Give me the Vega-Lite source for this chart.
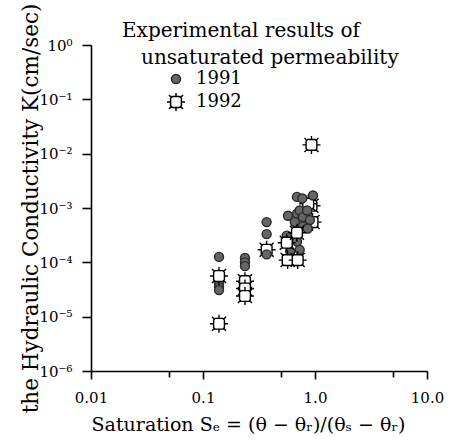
{
  "$schema": "https://vega.github.io/schema/vega-lite/v6.json",
  "width": 336,
  "height": 326,
  "autosize": {"type": "none"},
  "padding": {"left": 91, "top": 45, "right": 29, "bottom": 74},
  "background": "white",
  "config": {
    "view": {"stroke": null},
    "font": "DejaVu Serif",
    "axis": {"grid": false, "domainColor": "black", "labelColor": "black", "titleColor": "black", "labelFont": "DejaVu Serif", "titleFont": "DejaVu Serif", "titleFontWeight": "normal", "domainWidth": 1.6},
    "legend": {"titleFont": "DejaVu Serif", "labelFont": "DejaVu Serif", "titleFontWeight": "normal", "titleColor": "black", "labelColor": "black", "titleLimit": 500}
  },
  "data": {
    "values": [
      {"s": 0.37, "k": 0.00017, "year": "1992"},
      {"s": 0.95, "k": 0.00055, "year": "1992"},
      {"s": 0.93, "k": 0.0011, "year": "1992"},
      {"s": 0.87, "k": 0.0012, "year": "1992"},
      {"s": 0.139, "k": 0.000126, "year": "1991"},
      {"s": 0.139, "k": 0.000046, "year": "1991"},
      {"s": 0.139, "k": 0.00004, "year": "1991"},
      {"s": 0.139, "k": 0.000035, "year": "1991"},
      {"s": 0.139, "k": 0.000031, "year": "1991"},
      {"s": 0.237, "k": 0.00012, "year": "1991"},
      {"s": 0.237, "k": 0.0001, "year": "1991"},
      {"s": 0.237, "k": 0.000085, "year": "1991"},
      {"s": 0.37, "k": 0.00055, "year": "1991"},
      {"s": 0.37, "k": 0.00033, "year": "1991"},
      {"s": 0.37, "k": 0.00014, "year": "1991"},
      {"s": 0.574, "k": 0.00072, "year": "1991"},
      {"s": 0.69, "k": 0.0016, "year": "1991"},
      {"s": 0.77, "k": 0.0015, "year": "1991"},
      {"s": 0.96, "k": 0.0017, "year": "1991"},
      {"s": 0.69, "k": 0.00079, "year": "1991"},
      {"s": 0.73, "k": 0.0009, "year": "1991"},
      {"s": 0.78, "k": 0.00068, "year": "1991"},
      {"s": 0.9, "k": 0.0006, "year": "1991"},
      {"s": 0.85, "k": 0.0009, "year": "1991"},
      {"s": 0.78, "k": 0.00046, "year": "1991"},
      {"s": 0.66, "k": 0.00055, "year": "1991"},
      {"s": 0.86, "k": 0.00042, "year": "1991"},
      {"s": 0.56, "k": 0.00031, "year": "1991"},
      {"s": 0.69, "k": 0.00024, "year": "1991"},
      {"s": 0.73, "k": 0.00017, "year": "1991"},
      {"s": 0.6, "k": 0.00016, "year": "1991"},
      {"s": 0.139, "k": 0.000056, "year": "1992"},
      {"s": 0.139, "k": 0.0000074, "year": "1992"},
      {"s": 0.237, "k": 0.000045, "year": "1992"},
      {"s": 0.237, "k": 0.000033, "year": "1992"},
      {"s": 0.237, "k": 0.000024, "year": "1992"},
      {"s": 0.56, "k": 0.00023, "year": "1992"},
      {"s": 0.69, "k": 0.00035, "year": "1992"},
      {"s": 0.57, "k": 0.00011, "year": "1992"},
      {"s": 0.7, "k": 0.00011, "year": "1992"},
      {"s": 0.93, "k": 0.0145, "year": "1992"}
    ]
  },
  "mark": {"type": "point", "filled": true, "strokeWidth": 1.4, "opacity": 1},
  "encoding": {
    "x": {
      "field": "s", "type": "quantitative",
      "scale": {"type": "log", "domain": [0.01, 10], "nice": false},
      "axis": {
        "tickCount": 10,
        "labelExpr": "abs(datum.value/pow(10, floor(log(datum.value)/LN10 + 0.000001)) - 1) < 0.01 ? (datum.value < 0.05 ? '0.01' : (datum.value < 0.5 ? '0.1' : (datum.value < 5 ? '1.0' : '10.0'))) : ''",
        "tickSize": {"condition": {"test": "abs(datum.value/pow(10, floor(log(datum.value)/LN10 + 0.000001)) - 5) < 0.01", "value": 6}, "value": 8},
        "tickOpacity": {"condition": {"test": "abs(datum.value/pow(10, floor(log(datum.value)/LN10 + 0.000001)) - 1) < 0.01 || abs(datum.value/pow(10, floor(log(datum.value)/LN10 + 0.000001)) - 5) < 0.01", "value": 1}, "value": 0},
        "tickWidth": 1.6,
        "tickColor": "#000000",
        "labelFontSize": 15,
        "labelPadding": 11,
        "labelFlush": false,
        "labelOverlap": false,
        "title": "Saturation Sₑ = (θ − θᵣ)/(θₛ − θᵣ)",
        "titleFontSize": 19,
        "titlePadding": 10,
        "titleX": 157
      }
    },
    "y": {
      "field": "k", "type": "quantitative",
      "scale": {"type": "log", "domain": [0.000001, 1], "nice": false},
      "axis": {
        "tickCount": 5,
        "labelExpr": "['10⁰','10⁻¹','10⁻²','10⁻³','10⁻⁴','10⁻⁵','10⁻⁶'][-round(log(datum.value)/LN10)]",
        "tickSize": 9,
        "tickWidth": 1.6,
        "tickColor": "#000000",
        "labelFontSize": 15,
        "labelPadding": 10,
        "labelFlush": false,
        "labelOverlap": false,
        "title": "the Hydraulic Conductivity K(cm/sec)",
        "titleFontSize": 21.5,
        "titlePadding": -4
      }
    },
    "shape": {
      "field": "year", "type": "nominal",
      "scale": {"domain": ["1991", "1992"], "range": ["circle", "M-0.6,-0.42L-0.42,-0.6L0.42,-0.6L0.6,-0.42L0.6,0.42L0.42,0.6L-0.42,0.6L-0.6,0.42ZM0,-0.6L0,-1M0,0.6L0,1M-0.6,0L-1,0M0.6,0L1,0M-0.5,-0.5L-0.78,-0.78M0.5,-0.5L0.78,-0.78M-0.5,0.5L-0.78,0.78M0.5,0.5L0.78,0.78"]},
      "legend": {"title": ["Experimental results of", "\u200b\u00a0\u00a0\u00a0unsaturated permeability"], "orient": "none", "legendX": 31, "legendY": -24, "symbolOffset": 44, "titleFontSize": 20, "labelFontSize": 18, "titleLineHeight": 27, "rowPadding": 2, "titlePadding": 2, "labelOffset": 10}
    },
    "fill": {
      "field": "year", "type": "nominal",
      "scale": {"domain": ["1991", "1992"], "range": ["#666666", "#ffffff"]},
      "legend": {"title": ["Experimental results of", "\u200b\u00a0\u00a0\u00a0unsaturated permeability"], "orient": "none", "legendX": 31, "legendY": -24, "symbolOffset": 44, "titleFontSize": 20, "labelFontSize": 18, "titleLineHeight": 27, "rowPadding": 2, "titlePadding": 2, "labelOffset": 10}
    },
    "stroke": {
      "field": "year", "type": "nominal",
      "scale": {"domain": ["1991", "1992"], "range": ["#2a2a2a", "#000000"]},
      "legend": {"title": ["Experimental results of", "\u200b\u00a0\u00a0\u00a0unsaturated permeability"], "orient": "none", "legendX": 31, "legendY": -24, "symbolOffset": 44, "titleFontSize": 20, "labelFontSize": 18, "titleLineHeight": 27, "rowPadding": 2, "titlePadding": 2, "labelOffset": 10}
    },
    "size": {
      "field": "year", "type": "nominal",
      "scale": {"domain": ["1991", "1992"], "range": [81, 324]},
      "legend": {"title": ["Experimental results of", "\u200b\u00a0\u00a0\u00a0unsaturated permeability"], "orient": "none", "legendX": 31, "legendY": -24, "symbolOffset": 44, "titleFontSize": 20, "labelFontSize": 18, "titleLineHeight": 27, "rowPadding": 2, "titlePadding": 2, "labelOffset": 10}
    }
  }
}
